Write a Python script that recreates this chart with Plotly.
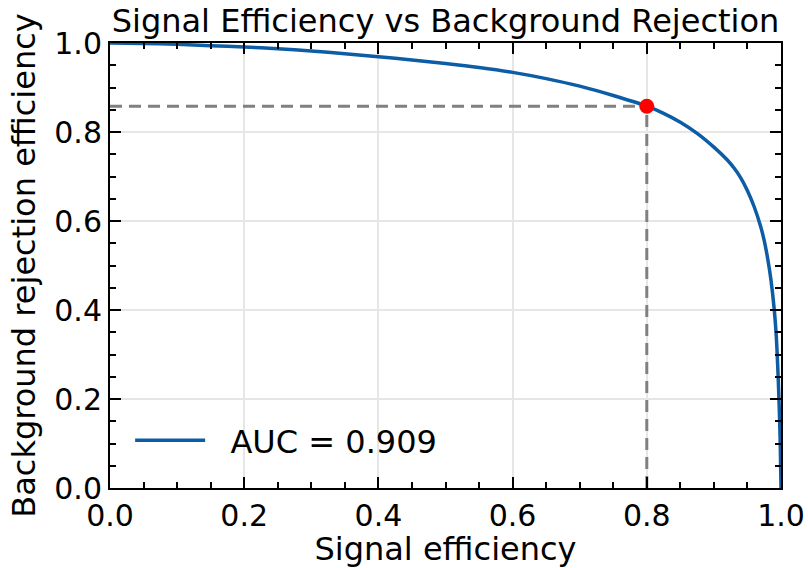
import plotly.graph_objects as go

# ROC-style curve values
sig_eff = [0.0, 0.05, 0.1, 0.15, 0.2, 0.25, 0.3, 0.35, 0.4, 0.45, 0.5, 0.55, 0.6,
           0.65, 0.7, 0.75, 0.8, 0.825, 0.85, 0.875, 0.9, 0.92, 0.93, 0.94, 0.95,
           0.96, 0.97, 0.975, 0.98, 0.985, 0.99, 0.993, 0.996, 0.998, 0.999, 1.0]
bkg_rej = [1.0, 0.999, 0.997, 0.994, 0.991, 0.987, 0.982, 0.976, 0.969, 0.962,
           0.954, 0.945, 0.934, 0.920, 0.903, 0.882, 0.858, 0.842, 0.822, 0.797,
           0.766, 0.737, 0.719, 0.697, 0.668, 0.632, 0.586, 0.556, 0.517, 0.468,
           0.40, 0.34, 0.24, 0.15, 0.09, 0.0]

wp_x = [0.8]
wp_y = [0.858]
auc_label = "AUC = 0.909"

tick_vals = [0.0, 0.2, 0.4, 0.6, 0.8, 1.0]
tick_text = ["0.0", "0.2", "0.4", "0.6", "0.8", "1.0"]

FONT = "DejaVu Sans"

fig = go.Figure()

# dashed guide lines to working point
fig.add_trace(go.Scatter(x=[0.0, wp_x[0]], y=[wp_y[0], wp_y[0]], mode="lines",
                         line=dict(color="#808080", width=3, dash="12px,7px"),
                         showlegend=False, hoverinfo="skip"))
fig.add_trace(go.Scatter(x=[wp_x[0], wp_x[0]], y=[0.0, wp_y[0]], mode="lines",
                         line=dict(color="#808080", width=3, dash="12px,7px"),
                         showlegend=False, hoverinfo="skip"))

fig.add_trace(go.Scatter(x=sig_eff, y=bkg_rej, mode="lines", name="  " + auc_label,
                         line=dict(color="#0C5DA5", width=3.5, shape="spline", smoothing=0.8)))

fig.add_trace(go.Scatter(x=wp_x, y=wp_y, mode="markers",
                         marker=dict(color="#FF0000", size=15, line=dict(width=0)),
                         showlegend=False))

axis_common = dict(
    range=[0, 1],
    tickvals=tick_vals,
    ticktext=tick_text,
    ticks="inside",
    ticklen=11,
    tickwidth=2,
    tickcolor="black",
    showline=True,
    linecolor="black",
    linewidth=2,
    mirror="ticks",
    showgrid=True,
    gridcolor="#e6e6e6",
    gridwidth=1.5,
    zeroline=False,
    automargin=False,
    tickfont=dict(family=FONT, size=30, color="black"),
    minor=dict(ticks="inside", ticklen=6, tickwidth=1.5, tickcolor="black",
               dtick=0.05, showgrid=False),
)

fig.update_xaxes(**axis_common,
                 title=dict(text="Signal efficiency",
                            font=dict(family=FONT, size=32, color="black"),
                            standoff=4))
fig.update_yaxes(**axis_common,
                 title=dict(text="Background rejection efficiency",
                            font=dict(family=FONT, size=32, color="black"),
                            standoff=9))

fig.update_layout(
    width=808, height=568,
    margin=dict(l=110, r=27, t=43, b=80, autoexpand=False),
    plot_bgcolor="white",
    paper_bgcolor="white",
    title=dict(text="Signal Efficiency vs Background Rejection",
               font=dict(family=FONT, size=32, color="black"),
               x=(110 + 671 / 2) / 808, xanchor="center",
               y=1 - 21 / 568, yanchor="middle"),
    legend=dict(x=0.03, y=0.045, xanchor="left", yanchor="bottom",
                bgcolor="rgba(0,0,0,0)", itemwidth=70,
                font=dict(family=FONT, size=32, color="black")),
)

fig.write_html("out.html",
               config={"displayModeBar": False},
               post_script="document.body.style.margin='0';document.body.style.overflow='hidden';")
